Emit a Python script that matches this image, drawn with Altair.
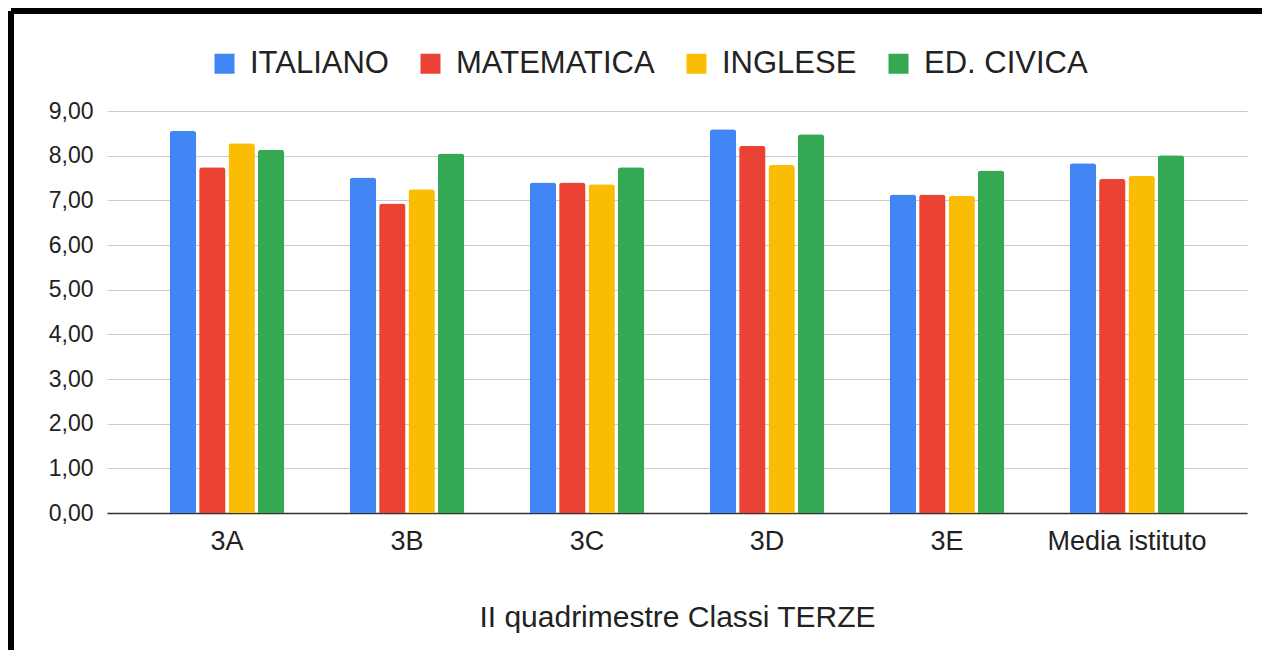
import altair as alt
import pandas as pd

classi = ["3A", "3B", "3C", "3D", "3E", "Media istituto"]
materie = ["ITALIANO", "MATEMATICA", "INGLESE", "ED. CIVICA"]
italiano = [8.56, 7.51, 7.40, 8.59, 7.13, 7.83]
matematica = [7.74, 6.93, 7.40, 8.22, 7.13, 7.48]
inglese = [8.28, 7.25, 7.36, 7.79, 7.10, 7.55]
civica = [8.13, 8.05, 7.74, 8.48, 7.67, 8.01]
colori = ["#4285F4", "#EA4335", "#FBBC04", "#34A853"]
y_ticks = [0, 1, 2, 3, 4, 5, 6, 7, 8, 9]

rows = []
for serie, vals in zip(materie, [italiano, matematica, inglese, civica]):
    for c, v in zip(classi, vals):
        rows.append({"classe": c, "materia": serie, "voto": v})
df = pd.DataFrame(rows)

FONT = "Liberation Sans"
TXT = "#222222"

bars = alt.Chart(df).mark_bar(cornerRadiusTopLeft=3, cornerRadiusTopRight=3).encode(
    x=alt.X(
        "classe:N",
        sort=classi,
        scale=alt.Scale(paddingInner=0.348, paddingOuter=0.3407),
        axis=alt.Axis(
            title="II quadrimestre Classi TERZE",
            titleFontSize=30,
            titleFontWeight="normal",
            titleColor=TXT,
            titleFont=FONT,
            titlePadding=48,
            labelAngle=0,
            labelFontSize=27,
            labelFont=FONT,
            labelColor=TXT,
            labelPadding=15,
            ticks=False,
            grid=False,
            domainColor="#333333",
            domainWidth=1.5,
        ),
    ),
    xOffset=alt.XOffset(
        "materia:N",
        sort=materie,
        scale=alt.Scale(paddingInner=0.1, paddingOuter=0.05),
    ),
    y=alt.Y(
        "voto:Q",
        scale=alt.Scale(domain=[0, 9], nice=False),
        axis=alt.Axis(
            title=None,
            values=y_ticks,
            labelExpr="replace(format(datum.value, '.2f'), '.', ',')",
            labelFontSize=23,
            labelFont=FONT,
            labelColor=TXT,
            labelPadding=14,
            ticks=False,
            domain=False,
            gridColor="#cccccc",
            gridWidth=1,
        ),
    ),
    color=alt.Color(
        "materia:N",
        sort=materie,
        scale=alt.Scale(domain=materie, range=colori),
        legend=alt.Legend(
            title=None,
            orient="none",
            legendX=102,
            legendY=-63,
            direction="horizontal",
            symbolType="square",
            symbolSize=400,
            symbolStrokeWidth=0,
            symbolOpacity=1,
            labelFontSize=31,
            labelFont=FONT,
            labelColor=TXT,
            labelOffset=10,
            labelLimit=0,
            columnPadding=26,
        ),
    ),
)

one = pd.DataFrame({"a": [0]})
top_border = alt.Chart(one).mark_rule(color="black", strokeWidth=6).encode(
    x=alt.value(-96), x2=alt.value(1155), y=alt.value(-100)
)
left_border = alt.Chart(one).mark_rule(color="black", strokeWidth=6).encode(
    x=alt.value(-96), y=alt.value(-100), y2=alt.value(539)
)

chart = alt.layer(bars, top_border, left_border).properties(
    width=1140, height=402, padding=0
).configure_view(stroke=None)

chart.save("out.html", embed_options={"renderer": "svg", "actions": False})
